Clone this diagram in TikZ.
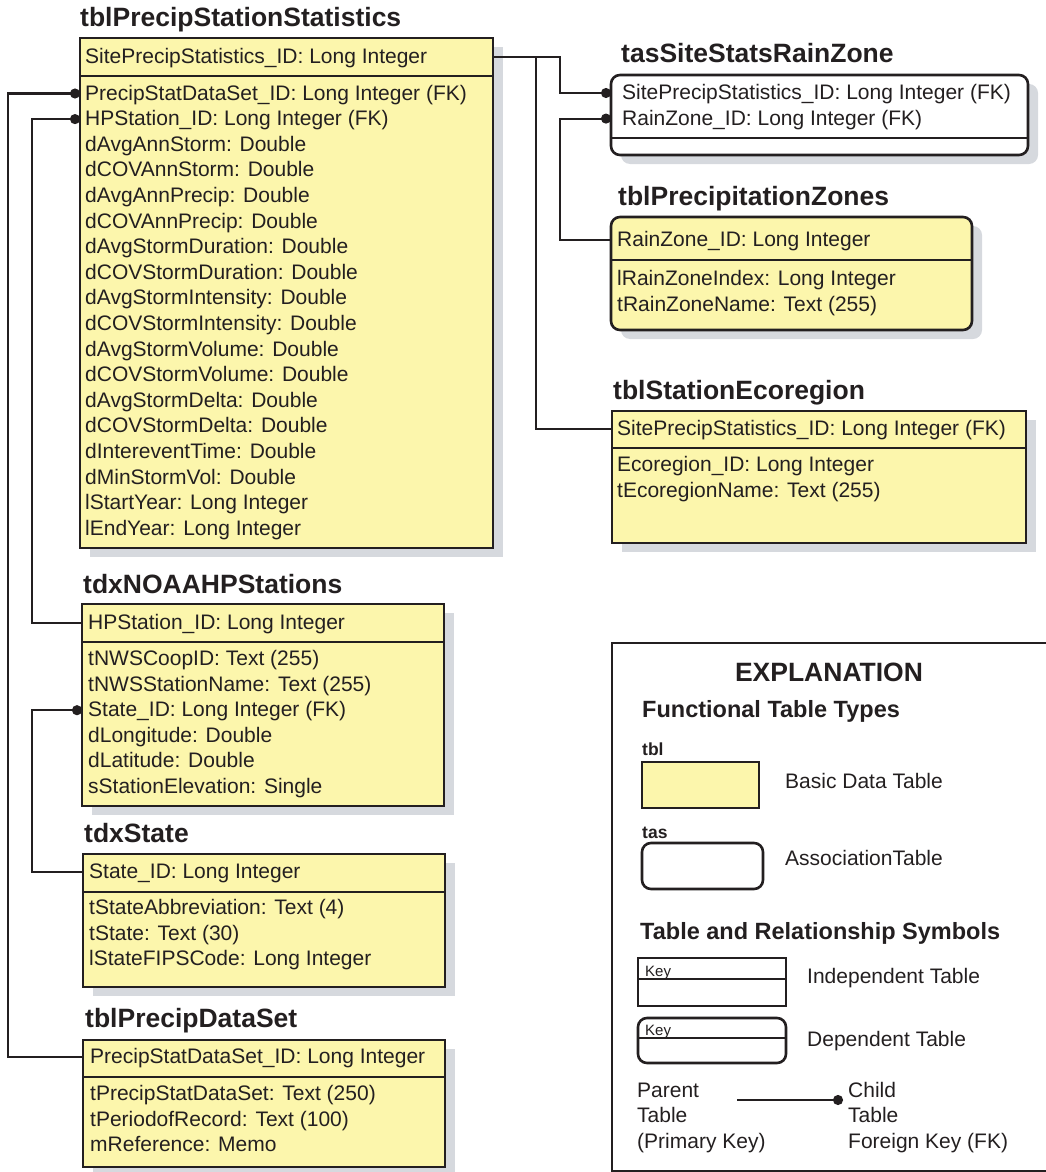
\documentclass[tikz,border=0pt]{standalone}
\usepackage{fontspec}
\setmainfont{Liberation Sans}
\usetikzlibrary{arrows.meta,positioning,shadows}
\definecolor{ink}{RGB}{35,31,32}
\definecolor{tabyellow}{RGB}{252,246,172}
\definecolor{shadegray}{RGB}{214,217,222}
\tikzset{
 tabbox/.style={draw=ink,line width=2.6pt,fill=tabyellow,anchor=north west,inner sep=0pt,outer sep=0pt},
 tasbox/.style={tabbox,fill=white,rounded corners=9pt},
 depbox/.style={tabbox,rounded corners=9pt},
 shadowed/.style={drop shadow={shadow xshift=10pt,shadow yshift=-9pt,fill=shadegray,draw=none,opacity=1}},
 tabline/.style={draw=ink,line width=2.6pt},
 field/.style={anchor=west,inner sep=0pt,text height=16pt,text depth=3pt,text=ink,font=\fontsize{21}{25.6}\selectfont},
 tabtitle/.style={anchor=base west,inner sep=0pt,text=ink,font=\bfseries\fontsize{26.5}{30}\selectfont},
 subhead/.style={anchor=base west,inner sep=0pt,text=ink,font=\bfseries\fontsize{23.5}{28}\selectfont},
 tag/.style={anchor=base west,inner sep=0pt,text=ink,font=\bfseries\fontsize{17.5}{20}\selectfont},
 keytxt/.style={anchor=base west,inner sep=0pt,text=ink,font=\fontsize{15}{18}\selectfont},
 rel/.style={draw=ink,line width=2.2pt},
 relfk/.style={rel,-{Circle[length=10pt,width=10pt]}}
}
\begin{document}
\begin{tikzpicture}[x=1pt,y=-1pt]
\useasboundingbox (0,0) rectangle (1046,1172);
% tblPrecipStationStatistics
\node[tabtitle] (pss-t) at (80,27) {tblPrecipStationStatistics};
\node[tabbox,shadowed,minimum width=413pt,minimum height=510pt] (pss) at (80,38) {};
\draw[tabline] (80,76) -- (493,76);
\node[field] (pss-key) at (85,57) {SitePrecipStatistics\_ID: Long Integer};
\foreach \f [count=\i] in {PrecipStatDataSet\_ID: Long Integer (FK),HPStation\_ID: Long Integer (FK),
 dAvgAnnStorm: Double,dCOVAnnStorm: Double,dAvgAnnPrecip: Double,dCOVAnnPrecip: Double,
 dAvgStormDuration: Double,dCOVStormDuration: Double,dAvgStormIntensity: Double,dCOVStormIntensity: Double,
 dAvgStormVolume: Double,dCOVStormVolume: Double,dAvgStormDelta: Double,dCOVStormDelta: Double,
 dIntereventTime: Double,dMinStormVol: Double,lStartYear: Long Integer,lEndYear: Long Integer}
 \node[field] (pss-r\i) at (85,{93.5+25.6*(\i-1)}) {\f};
% tdxNOAAHPStations
\node[tabtitle] (hps-t) at (83,593) {tdxNOAAHPStations};
\node[tabbox,shadowed,minimum width=362pt,minimum height=202pt] (hps) at (82,604) {};
\draw[tabline] (82,642) -- (444,642);
\node[field] (hps-key) at (88,623) {HPStation\_ID: Long Integer};
\foreach \f [count=\i] in {tNWSCoopID: Text (255),tNWSStationName: Text (255),State\_ID: Long Integer (FK),
 dLongitude: Double,dLatitude: Double,sStationElevation: Single}
 \node[field] (hps-r\i) at (88,{659+25.6*(\i-1)}) {\f};
% tdxState
\node[tabtitle] (sta-t) at (84,842) {tdxState};
\node[tabbox,shadowed,minimum width=362pt,minimum height=133pt] (sta) at (83,854) {};
\draw[tabline] (83,892) -- (445,892);
\node[field] (sta-key) at (89,872) {State\_ID: Long Integer};
\foreach \f [count=\i] in {tStateAbbreviation: Text (4),tState: Text (30),lStateFIPSCode: Long Integer}
 \node[field] (sta-r\i) at (89,{908+25.6*(\i-1)}) {\f};
% tblPrecipDataSet
\node[tabtitle] (pds-t) at (85,1027) {tblPrecipDataSet};
\node[tabbox,shadowed,minimum width=362pt,minimum height=127pt] (pds) at (83,1040) {};
\draw[tabline] (83,1077) -- (445,1077);
\node[field] (pds-key) at (90,1057) {PrecipStatDataSet\_ID: Long Integer};
\foreach \f [count=\i] in {tPrecipStatDataSet: Text (250),tPeriodofRecord: Text (100),mReference: Memo}
 \node[field] (pds-r\i) at (90,{1094+25.6*(\i-1)}) {\f};
% tasSiteStatsRainZone
\node[tabtitle] (tas-t) at (621,63) {tasSiteStatsRainZone};
\node[tasbox,shadowed,minimum width=417pt,minimum height=80pt] (tas) at (611,75) {};
\draw[tabline] (611,138) -- (1028,138);
\node[field] (tas-r1) at (622,93) {SitePrecipStatistics\_ID: Long Integer (FK)};
\node[field] (tas-r2) at (622,118.6) {RainZone\_ID: Long Integer (FK)};
% tblPrecipitationZones
\node[tabtitle] (zon-t) at (618,205) {tblPrecipitationZones};
\node[depbox,shadowed,minimum width=361pt,minimum height=113pt] (zon) at (611,217) {};
\draw[tabline] (611,260) -- (972,260);
\node[field] (zon-key) at (617,240) {RainZone\_ID: Long Integer};
\node[field] (zon-r1) at (617,279) {lRainZoneIndex: Long Integer};
\node[field] (zon-r2) at (617,304.6) {tRainZoneName: Text (255)};
% tblStationEcoregion
\node[tabtitle] (eco-t) at (613,399) {tblStationEcoregion};
\node[tabbox,shadowed,minimum width=414pt,minimum height=132pt] (eco) at (612,411) {};
\draw[tabline] (612,448) -- (1026,448);
\node[field] (eco-key) at (617,429) {SitePrecipStatistics\_ID: Long Integer (FK)};
\node[field] (eco-r1) at (617,465) {Ecoregion\_ID: Long Integer};
\node[field] (eco-r2) at (617,490.6) {tEcoregionName: Text (255)};
% relationships
\coordinate (busA) at (8,0);
\coordinate (busB) at (32,0);
\coordinate (busC) at (536,0);
\coordinate (busD) at (560,0);
\draw[relfk] (pds-key -| pds.west) -- (pds-key -| busA) |- (pss-r1 -| pss.west);
\draw[relfk] (hps-key -| hps.west) -- (hps-key -| busB) |- (pss-r2 -| pss.west);
\draw[relfk] (sta-key -| sta.west) -- (sta-key -| busB) |- (hps-r3 -| hps.west);
\draw[relfk] (pss-key -| pss.east) -- (pss-key -| busD) |- (tas-r1 -| tas.west);
\draw[rel] (pss-key -| busC) |- (eco-key -| eco.west);
\draw[relfk] (zon-key -| zon.west) -- (zon-key -| busD) |- (tas-r2 -| tas.west);
% explanation
\draw[ink,line width=2.2pt] (1050,643) -- (612,643) -- (612,1171) -- (1050,1171);
\node[tabtitle,anchor=base] (expl) at (829,681) {EXPLANATION};
\node[subhead] (ftt) at (642,717) {Functional Table Types};
\node[tag] (lg-tbl) at (642,755) {tbl};
\node[tabbox,minimum width=117pt,minimum height=46pt] (lg-basic) at (642,762) {};
\node[field] (lg-basic-t) at (785,782) {Basic Data Table};
\node[tag] (lg-tas) at (642,838) {tas};
\node[tasbox,minimum width=121pt,minimum height=46pt] (lg-assoc) at (642,843) {};
\node[field] (lg-assoc-t) at (785,859) {AssociationTable};
\node[subhead] (trs) at (640,939) {Table and Relationship Symbols};
\node[tasbox,rounded corners=0pt,minimum width=148pt,minimum height=48pt] (lg-ind) at (638,958) {};
\draw[tabline] (638,979) -- (786,979);
\node[keytxt] (lg-ind-k) at (645,976) {Key};
\node[field] (lg-ind-t) at (807,977) {Independent Table};
\node[tasbox,minimum width=148pt,minimum height=45pt] (lg-dep) at (638,1018) {};
\draw[tabline] (638,1038) -- (786,1038);
\node[keytxt] (lg-dep-k) at (645,1035) {Key};
\node[field] (lg-dep-t) at (807,1040) {Dependent Table};
\foreach \t [count=\i] in {Parent,Table,{(Primary Key)}}
 \node[field] (par\i) at (637,{1090.5+25.6*(\i-1)}) {\t};
\foreach \t [count=\i] in {Child,Table,Foreign Key (FK)}
 \node[field] (chi\i) at (848,{1090.5+25.6*(\i-1)}) {\t};
\coordinate (relA) at (737,1100);
\coordinate (relB) at (843,1100);
\draw[relfk] (relA) -- (relB);
\end{tikzpicture}
\end{document}
